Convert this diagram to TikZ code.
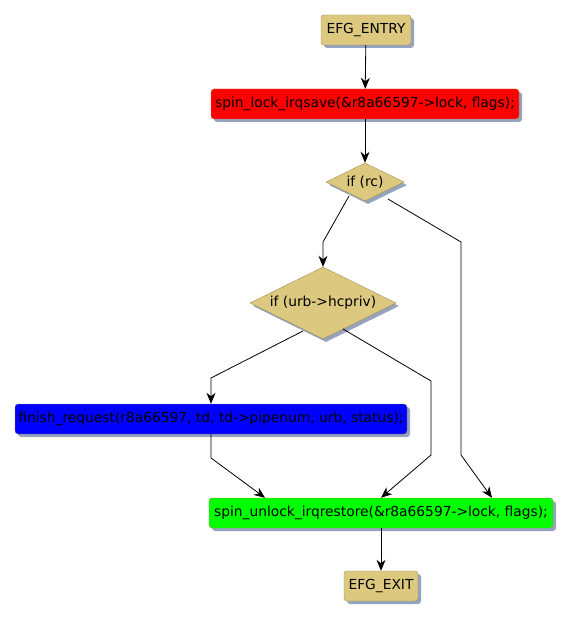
\documentclass[tikz,border=0pt]{standalone}
\usepackage{fontspec}
\setmainfont{DejaVu Sans}
\usetikzlibrary{shapes.geometric,arrows.meta,shadows}

\definecolor{efgtan}{RGB}{220,201,127}
\definecolor{efgedge}{RGB}{160,142,80}
\definecolor{efgshadow}{RGB}{150,163,190}

\begin{document}
\begin{tikzpicture}[
  x=1pt, y=-1pt,
  >={Stealth[length=11pt,width=9pt,inset=3.5pt]},
  shad/.style={drop shadow={fill=efgshadow, opacity=1, shadow xshift=3pt, shadow yshift=-3pt}},
  box/.style={draw=efgedge, rounded corners=3pt, minimum height=30pt, inner sep=1pt, align=center, font=\fontsize{13.8}{15}\selectfont, shad},
  cond/.style={diamond, draw=efgedge, fill=efgtan, aspect=2, inner sep=0pt, font=\fontsize{13.8}{15}\selectfont, shad},
  arr/.style={->, line width=0.8pt},
]
\useasboundingbox (0,0) rectangle (572,620);

% entry and lock
\node[box, fill=efgtan, minimum width=90pt] (entry) at (366,30) {EFG\_ENTRY};
\node[box, fill=red, minimum width=308pt] (lock) at (365,104) {spin\_lock\_irqsave(\&r8a66597->lock, flags);};

% conditions
\node[cond, minimum width=78pt, minimum height=38pt] (rc) at (365,182) {if (rc)};
\node[cond, minimum width=146pt, minimum height=72pt] (urb) at (323,303) {if (urb->hcpriv)};

% statements
\node[box, fill=blue, minimum width=392pt] (finish) at (211,419) {finish\_request(r8a66597, td, td->pipenum, urb, status);};
\node[box, fill=green, minimum width=344pt] (unlock) at (381,513) {spin\_unlock\_irqrestore(\&r8a66597->lock, flags);};
\node[box, fill=efgtan, minimum width=74pt] (exit) at (381,586) {EFG\_EXIT};

\draw[arr] (entry) -- (lock);
\draw[arr] (lock) -- (rc);

% branches of if (rc)
\draw[arr] ([shift={(-16,14)}]rc.center) -- (323,242) -- (urb.north);
\draw[arr] ([shift={(23,17)}]rc.center) -- (461,242) -- (461,455) -- ([xshift=111pt]unlock.north);

% branches of if (urb->hcpriv)
\draw[arr] ([shift={(-20,28)}]urb.center) -- (211,378) -- (finish.north);
\draw[arr] ([shift={(20,26)}]urb.center) -- (431,381) -- (431,455) -- (unlock.north);

\draw[arr] (finish.south) -- (211,458) -- ([xshift=-116pt]unlock.north);
\draw[arr] (unlock) -- (exit);

\end{tikzpicture}
\end{document}
